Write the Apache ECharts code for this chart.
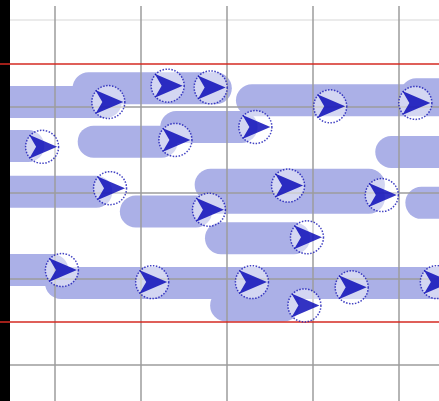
<!DOCTYPE html>
<html>
<head>
<meta charset="utf-8">
<script src="https://cdn.jsdelivr.net/npm/echarts@6/dist/echarts.min.js"></script>
<style>
  html, body { margin: 0; padding: 0; background: #fff; }
  #container { width: 439px; height: 401px; }
</style>
</head>
<body>
<div id="container"></div>
<script>
// bands: start x, end x, level y
var bandStart = [13.9, 0, 32.9, 52.0, 24.1, 14.5, 0, 49.1, 0, 19.4, 28.1, 28.7, 52.6, 29.3, 0, 10.7, 29.9];
var bandEnd   = [28.7, 15.9, 60, 60, 31.7, 22.4, 6.9, 60, 14.8, 26.4, 46.5, 46.5, 60, 37.8, 9.7, 60, 36.6];
var bandY     = [17.9, 19.5, 19.3, 18.6, 22.4, 24.1, 24.6, 25.3, 29.9, 32.2, 29.1, 30.6, 31.2, 35.3, 39.0, 40.5, 43.1];

// arrow markers
var markerX = [16.2, 23.1, 28.1, 42.0, 51.9, 8.5, 24.0, 33.3, 16.4, 37.1, 48.0, 27.9, 39.3, 10.8, 21.3, 32.9, 44.5, 54.4, 39.0];
var markerY = [19.5, 17.6, 17.8, 20.0, 19.6, 24.7, 23.9, 22.4, 29.5, 29.2, 30.3, 32.0, 35.2, 39.0, 40.4, 40.4, 41.0, 40.4, 43.1];

// red limit lines
var limits = [15, 45];

var dom = document.getElementById("container");
var myChart = echarts.init(dom);

var markers = markerX.map(function (x, i) {
  return [x, markerY[i]];
});

var series = [];
bandStart.forEach(function (s, i) {
  series.push({
    type: "line",
    data: [[s, bandY[i]], [bandEnd[i], bandY[i]]],
    showSymbol: false,
    silent: true,
    z: 2,
    lineStyle: { color: "#abb0e7", width: 32, cap: "round" },
  });
});

series.push({
  type: "scatter",
  data: markers,
  symbol: "circle",
  symbolSize: 33,
  z: 5,
  itemStyle: {
    color: "rgba(255,255,255,0.6)",
    borderColor: "#1414b4",
    borderWidth: 1.5,
    borderType: "dotted",
  },
  markLine: {
    silent: true,
    symbol: "none",
    label: { show: false },
    lineStyle: { color: "#d42a22", width: 1.5, type: "solid" },
    data: limits.map(function (v) {
      return { yAxis: v };
    }),
  },
});

series.push({
  type: "scatter",
  data: markers,
  symbol: "arrow",
  symbolSize: [18, 28],
  symbolRotate: -90,
  symbolOffset: [15, 0],
  z: 6,
  itemStyle: { color: "#0000b4" },
});

var option = {
  animation: false,
  backgroundColor: "#fff",
  grid: {
    left: -31,
    right: -46,
    top: -66,
    bottom: -50,
    containLabel: false,
    outerBoundsMode: "none",
  },
  xAxis: {
    type: "value",
    min: 0,
    max: 60,
    interval: 10,
    z: 3,
    axisLine: { show: false },
    axisTick: { show: false },
    axisLabel: { show: false },
    splitLine: { lineStyle: { color: "#9c9c9c", width: 1.5 } },
  },
  yAxis: {
    type: "value",
    inverse: true,
    min: 0,
    max: 60,
    interval: 10,
    offset: -36,
    z: 3,
    axisLine: { show: true, onZero: false, lineStyle: { color: "#000", width: 10 } },
    axisTick: { show: false },
    axisLabel: { show: false },
    splitLine: {
      lineStyle: {
        color: ["#cccccc", "#e4e4e4", "#9c9c9c", "#9c9c9c", "#9c9c9c", "#9c9c9c", "#9c9c9c"],
        width: 1.5,
      },
    },
  },
  graphic: [
    {
      type: "rect",
      left: 11,
      top: 0,
      shape: { width: 430, height: 6 },
      style: { fill: "#fff" },
      z: 100,
    },
  ],
  series: series,
};

myChart.setOption(option);
</script>
</body>
</html>
